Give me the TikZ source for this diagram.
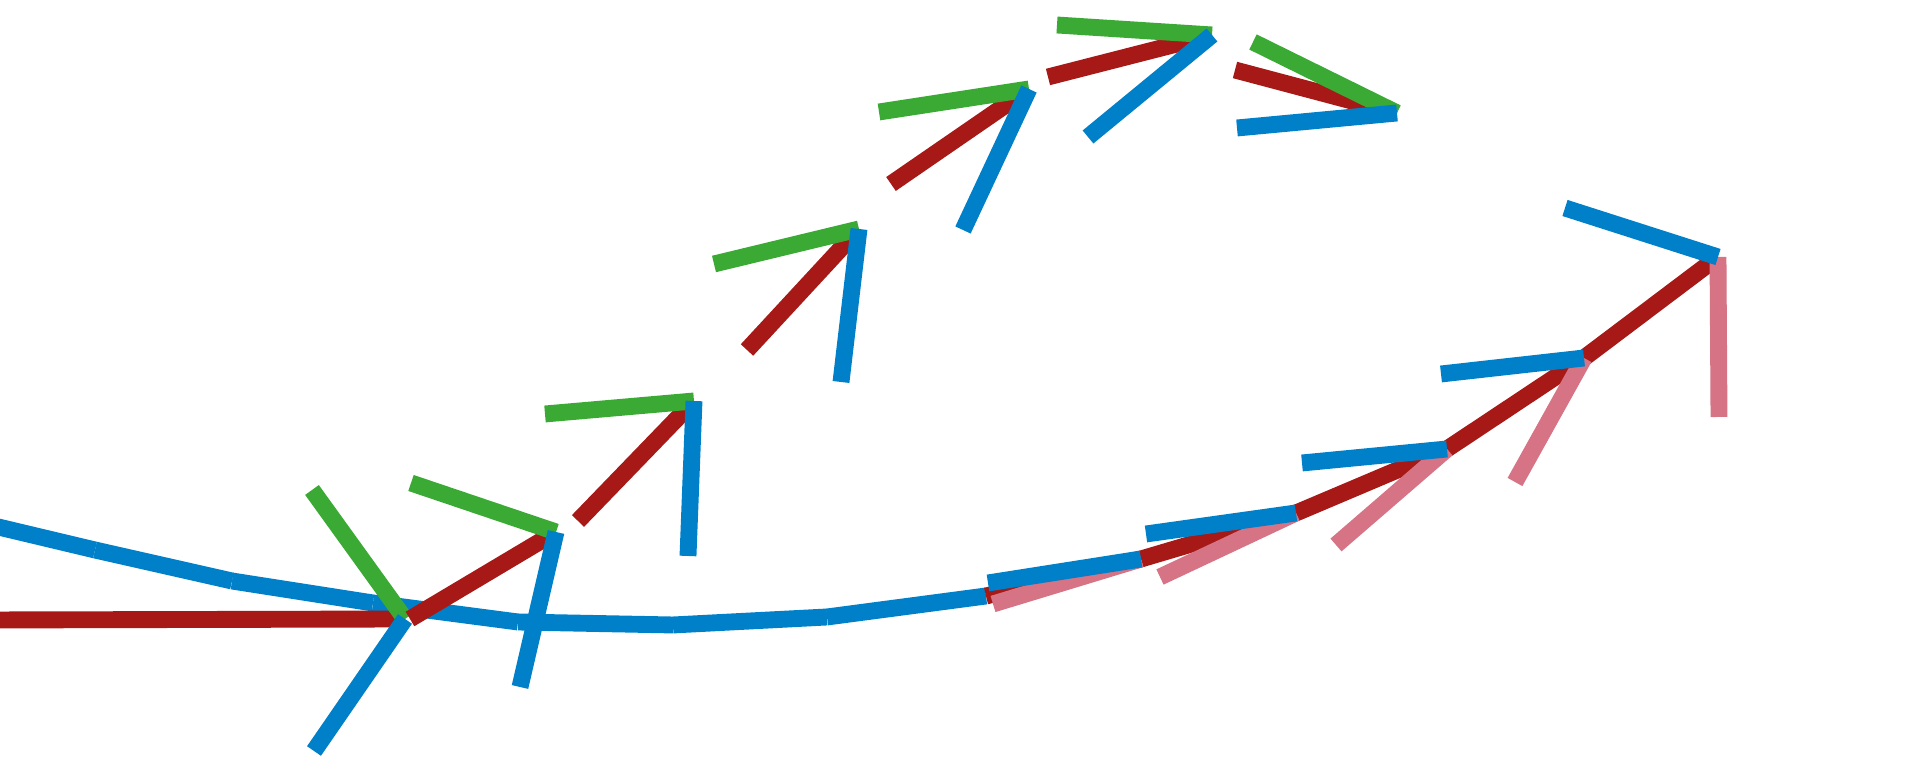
\documentclass[tikz,border=0pt]{standalone}
\usepackage{xcolor}
\usepackage{tikz}

\definecolor{trred}{RGB}{166,25,22}
\definecolor{trgreen}{RGB}{58,170,53}
\definecolor{trblue}{RGB}{0,128,200}
\definecolor{trpink}{RGB}{214,115,132}

\begin{document}
\begin{tikzpicture}[
    x=0.01cm, y=-0.01cm,
    frameax/.style={line width=4.8pt, line cap=butt},
    redax/.style={frameax, draw=trred},
    greenax/.style={frameax, draw=trgreen},
    blueax/.style={frameax, draw=trblue},
    pinkax/.style={frameax, draw=trpink},
]
\useasboundingbox (0,0) rectangle (1920,768);

% === Lower track: frame origins ===
\coordinate (b0) at (-10,525);
\coordinate (b1) at (95,550);
\coordinate (b2) at (232,581);
\coordinate (b3) at (373,603);
\coordinate (b4) at (518,622);
\coordinate (b5) at (673,625);
\coordinate (b6) at (827,617);
\coordinate (k1) at (986,596);
\coordinate (k2) at (1141,559);
\coordinate (k3) at (1296,513);
\coordinate (k4) at (1447,449);
\coordinate (k5) at (1584,358);
\coordinate (k6) at (1718,257);

% === Lower track: blue axes chained back ===
\draw[blueax] (b0) -- (b1);
\draw[blueax] (b1) -- (b2);
\draw[blueax] (b2) -- (b3);
\draw[blueax] (b3) -- (b4);
\draw[blueax] (b4) -- (b5);
\draw[blueax] (b5) -- (b6);
\draw[blueax] (b6) -- (k1);

% === Upper track: frame origins ===
\coordinate (j1) at (405,619);
\coordinate (j2) at (556,532);
\coordinate (j3) at (694,401);
\coordinate (j4) at (859,229);
\coordinate (j5) at (1029,89);
\coordinate (j6) at (1212,35);
\coordinate (j7) at (1397,113);

% === Upper track: red, green, blue axes ===
\draw[redax] (-10,620) -- (j1);
\draw[greenax] (j1) -- (312,490);
\draw[blueax] (j1) -- (314,751);

\draw[redax] (410,619) -- (j2);
\draw[greenax] (j2) -- (411,483);
\draw[blueax] (j2) -- (520,687);

\draw[redax] (578,521) -- (j3);
\draw[greenax] (j3) -- (545,414);
\draw[blueax] (j3) -- (688,556);

\draw[redax] (747,350) -- (j4);
\draw[greenax] (j4) -- (714,264);
\draw[blueax] (j4) -- (841,382);

\draw[redax] (891,184) -- (j5);
\draw[greenax] (j5) -- (879,112);
\draw[blueax] (j5) -- (963,230);

\draw[redax] (1048,77) -- (j6);
\draw[greenax] (j6) -- (1057,25);
\draw[blueax] (j6) -- (1088,137);

\draw[redax] (1235,70) -- (j7);
\draw[greenax] (j7) -- (1253,42);
\draw[blueax] (j7) -- (1237,128);

% === Lower track: rising part ===
\draw[redax] (k1) -- (k2);
\draw[redax] (k2) -- (k3);
\draw[redax] (k3) -- (k4);
\draw[redax] (k4) -- (k5);
\draw[redax] (k5) -- (k6);

\draw[pinkax] (k2) -- (993,604);
\draw[pinkax] (k3) -- (1160,577);
\draw[pinkax] (k4) -- (1336,545);
\draw[pinkax] (k5) -- (1515,482);
\draw[pinkax] (k6) -- (1719,417);

\draw[blueax] (k2) -- (988,583);
\draw[blueax] (k3) -- (1146,534);
\draw[blueax] (k4) -- (1302,463);
\draw[blueax] (k5) -- (1441,374);
\draw[blueax] (k6) -- (1565,208);

\end{tikzpicture}
\end{document}
